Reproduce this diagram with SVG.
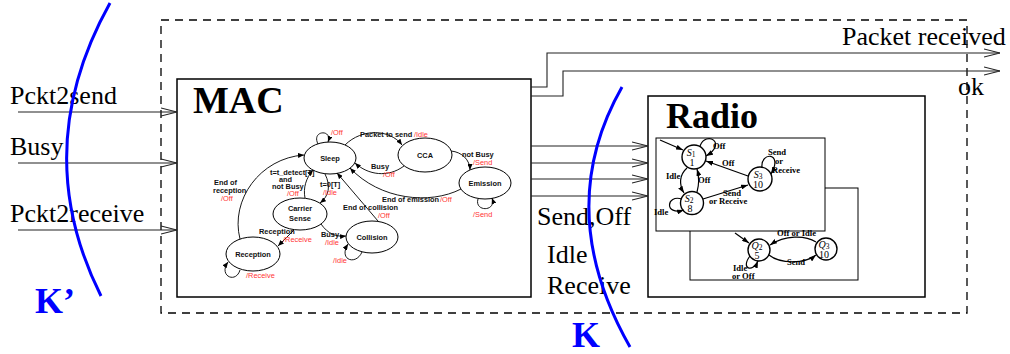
<svg xmlns="http://www.w3.org/2000/svg" width="1010" height="354" viewBox="0 0 1010 354">
<style>
.big{font-family:"Liberation Serif",serif;font-size:26px;fill:#000}
.title{font-family:"Liberation Serif",serif;font-weight:bold;fill:#000}
.st{font-family:"Liberation Sans",Arial,sans-serif;font-size:7.4px;font-weight:bold;fill:#111}
.rd{font-family:"Liberation Sans",Arial,sans-serif;font-size:7.4px;fill:#f33}
.rl{font-family:"Liberation Serif",serif;font-size:8.6px;font-weight:bold;fill:#000}
.sv{font-family:"Liberation Serif",serif;font-size:10px;fill:#000}
.box{fill:#fff;stroke:#000;stroke-width:1.5}
.ell{fill:#fff;stroke:#000;stroke-width:1}
.circ{fill:#fff;stroke:#000;stroke-width:1.4}
.big-arrow{fill:none;stroke:#222;stroke-width:1.1;marker-end:url(#open)}
.tr{fill:none;stroke:#000;stroke-width:0.9;marker-end:url(#sm)}
.rt{fill:none;stroke:#000;stroke-width:1.2;marker-end:url(#rm)}
.kk{fill:none;stroke:#00f;stroke-width:3}
.klab{font-family:"Liberation Serif",serif;font-weight:bold;font-size:36px;fill:#00f}
</style>
<defs>
<marker id="open" markerUnits="userSpaceOnUse" viewBox="0 0 16 10" refX="16" refY="5" markerWidth="16" markerHeight="10" orient="auto">
<path d="M0,1 L16,5 L0,9" fill="none" stroke="#222" stroke-width="1.1"/>
</marker>
<marker id="sm" markerUnits="userSpaceOnUse" viewBox="0 0 6 5" refX="6" refY="2.5" markerWidth="6" markerHeight="5" orient="auto">
<path d="M0,0 L6,2.5 L0,5 z" fill="#000"/>
</marker>
<marker id="rm" markerUnits="userSpaceOnUse" viewBox="0 0 7 5" refX="7" refY="2.5" markerWidth="7" markerHeight="5" orient="auto">
<path d="M0,0 L7,2.5 L0,5 z" fill="#000"/>
</marker>
</defs>
<rect width="1010" height="354" fill="#fff"/>

<!-- dashed system boundary -->
<g id="boundary">
<rect x="161" y="20" width="806" height="293" fill="none" stroke="#000" stroke-width="1.3" stroke-dasharray="8,6"/>
</g>

<!-- MAC node -->
<g id="mac">
<rect class="box" x="177" y="79" width="354" height="218"/>
<text class="title" x="193" y="113" font-size="38">MAC</text>
</g>

<!-- Radio node -->
<g id="radio">
<rect class="box" x="648" y="96" width="277" height="201"/>
<text class="title" x="666" y="128" font-size="36">Radio</text>
<rect x="690" y="188" width="168" height="92" fill="#fff" stroke="#000" stroke-width="1"/>
<rect x="656" y="138" width="169" height="93" fill="#fff" stroke="#000" stroke-width="1"/>
</g>

<!-- MAC internal states -->
<g id="mac-sleep"><ellipse class="ell" cx="330" cy="158" rx="26" ry="16"/><text class="st" x="330" y="160.5" text-anchor="middle">Sleep</text></g>
<g id="mac-cca"><ellipse class="ell" cx="425" cy="155" rx="27" ry="17"/><text class="st" x="425" y="157.5" text-anchor="middle">CCA</text></g>
<g id="mac-emission"><ellipse class="ell" cx="485" cy="183" rx="26" ry="16"/><text class="st" x="485" y="185.5" text-anchor="middle">Emission</text></g>
<g id="mac-carrier"><ellipse class="ell" cx="300" cy="214" rx="27" ry="16"/><text class="st" x="300" y="211" text-anchor="middle">Carrier</text><text class="st" x="300" y="221" text-anchor="middle">Sense</text></g>
<g id="mac-collision"><ellipse class="ell" cx="372" cy="237" rx="26" ry="16"/><text class="st" x="372" y="239.5" text-anchor="middle">Collision</text></g>
<g id="mac-reception"><ellipse class="ell" cx="253" cy="254" rx="27" ry="17"/><text class="st" x="253" y="256.5" text-anchor="middle">Reception</text></g>

<!-- Radio internal states -->
<g id="s1"><circle class="circ" cx="694" cy="157" r="12"/><text class="sv" x="691" y="155.5" text-anchor="middle"><tspan font-style="italic">S</tspan><tspan font-size="7.5" dy="1.5">1</tspan></text><text class="sv" x="692" y="166" text-anchor="middle" font-size="8.5">1</text></g>
<g id="s2"><circle class="circ" cx="692" cy="203" r="11.5"/><text class="sv" x="689" y="201.5" text-anchor="middle"><tspan font-style="italic">S</tspan><tspan font-size="7.5" dy="1.5">2</tspan></text><text class="sv" x="690" y="212" text-anchor="middle" font-size="8.5">8</text></g>
<g id="s3"><circle class="circ" cx="760" cy="179" r="12"/><text class="sv" x="758" y="177.5" text-anchor="middle"><tspan font-style="italic">S</tspan><tspan font-size="7.5" dy="1.5">3</tspan></text><text class="sv" x="758" y="188" text-anchor="middle" font-size="8.5">10</text></g>
<g id="q2"><circle class="circ" cx="759" cy="250" r="11"/><text class="sv" x="757" y="248.5" text-anchor="middle"><tspan font-style="italic">Q</tspan><tspan font-size="7.5" dy="1.5">2</tspan></text><text class="sv" x="757" y="259" text-anchor="middle" font-size="8.5">5</text></g>
<g id="q3"><circle class="circ" cx="826" cy="249" r="11"/><text class="sv" x="824" y="247.5" text-anchor="middle"><tspan font-style="italic">Q</tspan><tspan font-size="7.5" dy="1.5">3</tspan></text><text class="sv" x="824" y="258" text-anchor="middle" font-size="8.5">10</text></g>

<!-- connectors -->
<g id="connectors">
<!-- inputs -->
<path class="big-arrow" d="M18,112 H177"/>
<path class="big-arrow" d="M18,163 H177"/>
<path class="big-arrow" d="M18,230 H177"/>
<!-- MAC to Radio -->
<path class="big-arrow" d="M531,146 H648"/>
<path class="big-arrow" d="M531,163 H648"/>
<path class="big-arrow" d="M531,179 H648"/>
<path class="big-arrow" d="M531,196 H648"/>
<!-- outputs -->
<path class="big-arrow" d="M531,87 H547 V53 H1000"/>
<path class="big-arrow" d="M531,96 H563 V71 H1000"/>

<!-- MAC transitions -->
<path class="tr" d="M318,144 C311,130 333,129 328,142"/>
<path class="tr" d="M345,145 C362,128 390,129 402,145"/>
<path class="tr" d="M404,166 C388,178 368,175 355,163"/>
<path class="tr" d="M451,151 C462,152 470,160 470,170"/>
<path class="tr" d="M461,189 C430,205 380,200 350,168"/>
<path class="tr" d="M478,199 C474,212 497,212 492,198"/>
<path class="tr" d="M378,221 L337,173"/>
<path class="tr" d="M305,198 C303,188 306,178 313,170"/>
<path class="tr" d="M325,174 C331,186 329,196 320,203"/>
<path class="tr" d="M321,224 C328,234 336,237 346,236"/>
<path class="tr" d="M362,252 C356,266 338,260 348,244"/>
<path class="tr" d="M294,230 L278,246"/>
<path class="tr" d="M240,239 C230,200 260,158 304,155"/>
<path class="tr" d="M240,270 C236,284 218,276 228,262"/>

<!-- Radio transitions -->
<path class="rt" d="M660,140 L683,150"/>
<path class="rt" d="M700,146 C706,130 728,143 706,156"/>
<path class="rt" d="M687,168 C679,175 679,185 684,193"/>
<path class="rt" d="M697,192 C699,185 699,176 697,169"/>
<path class="rt" d="M748,176 L706,161"/>
<path class="rt" d="M762,168 C760,151 784,152 771,174"/>
<path class="rt" d="M703,199 L748,185"/>
<path class="rt" d="M682,199 C666,194 664,216 684,210"/>
<path class="rt" d="M735,233 L749,243"/>
<path class="rt" d="M816,242 C805,235 785,235 770,245"/>
<path class="rt" d="M769,255 C780,264 805,264 816,255"/>
<path class="rt" d="M750,256 C740,269 753,273 758,261"/>
</g>

<!-- MAC transition labels -->
<g id="mac-labels">
<text class="rd" x="331" y="135">/Off</text>
<text class="st" x="360" y="137">Packet to send</text>
<text class="rd" x="414" y="137">/Idle</text>
<text class="st" x="371" y="169">Busy</text>
<text class="rd" x="383" y="177">/Off</text>
<text class="st" x="462" y="157">not Busy</text>
<text class="rd" x="473" y="165">/Send</text>
<text class="st" x="382" y="202">End of emission</text>
<text class="rd" x="440" y="202">/Off</text>
<text class="rd" x="473" y="217">/Send</text>
<text class="st" x="343" y="210">End of collision</text>
<text class="rd" x="378" y="218">/Off</text>
<text class="st" x="270" y="175">t=t_detect[T]</text>
<text class="st" x="279" y="182">and</text>
<text class="st" x="272" y="189">not Busy</text>
<text class="rd" x="287" y="196">/Off</text>
<text class="st" x="320" y="187">t=0[T]</text>
<text class="rd" x="323" y="195">/Idle</text>
<text class="st" x="321" y="237">Busy</text>
<text class="rd" x="325" y="245">/Idle</text>
<text class="rd" x="333" y="263">/Idle</text>
<text class="st" x="259" y="234">Reception</text>
<text class="rd" x="283" y="242">/Receive</text>
<text class="st" x="214" y="185">End of</text>
<text class="st" x="213" y="193">reception</text>
<text class="rd" x="221" y="201">/Off</text>
<text class="rd" x="246" y="278">/Receive</text>
</g>

<!-- Radio transition labels -->
<g id="radio-labels">
<text class="rl" x="713" y="149">Off</text>
<text class="rl" x="666" y="179">Idle</text>
<text class="rl" x="698" y="183">Off</text>
<text class="rl" x="722" y="166">Off</text>
<text class="rl" x="768" y="155" font-size="7.6">Send</text>
<text class="rl" x="775" y="163.5" font-size="7.6">or</text>
<text class="rl" x="772" y="172.5" font-size="7.6">Receive</text>
<text class="rl" x="723" y="196">Send</text>
<text class="rl" x="709" y="204">or Receive</text>
<text class="rl" x="654" y="215">Idle</text>
<text class="rl" x="777" y="236">Off or Idle</text>
<text class="rl" x="787" y="265">Send</text>
<text class="rl" x="733" y="271">Idle</text>
<text class="rl" x="732" y="279">or Off</text>
</g>

<!-- signal labels -->
<g id="signal-labels">
<text class="big" x="10" y="104">Pckt2send</text>
<text class="big" x="10" y="155">Busy</text>
<text class="big" x="10" y="222">Pckt2receive</text>
<text class="big" x="842" y="45">Packet received</text>
<text class="big" x="958" y="95">ok</text>
<text class="big" x="537" y="225">Send,Off</text>
<text class="big" x="547" y="263">Idle</text>
<text class="big" x="547" y="294">Receive</text>
</g>

<!-- cuts K' and K -->
<g id="cut-k-prime">
<path class="kk" d="M110,3 Q28,150 101,296"/>
<text class="klab" x="35" y="313">K’</text>
</g>
<g id="cut-k">
<path class="kk" d="M622,87 Q552,210 630,347"/>
<text class="klab" x="572" y="347">K</text>
</g>
</svg>
